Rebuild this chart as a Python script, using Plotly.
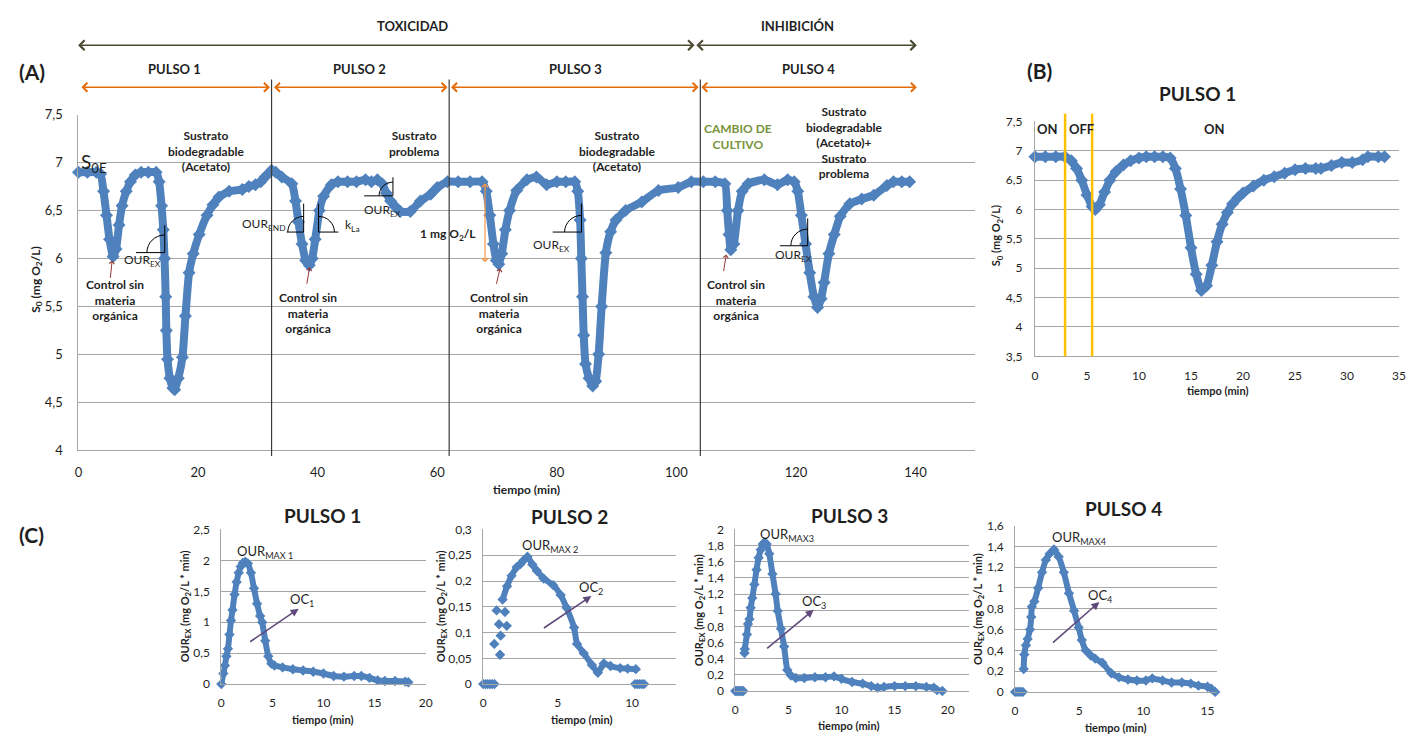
import plotly.graph_objects as go

W, H = 1414, 741
FONT = "Lato, 'Open Sans', sans-serif"
BLUE = "#4F81BD"
TXT = "#1F1F1F"
GRID = "#A6A6A6"

# ---------------- data ----------------
# Panel A: full run, dissolved oxygen S0 (mg O2/L) vs time (min)
a_time = [0, 1.5, 3.0, 3.7, 4.2, 4.7, 5.2, 5.8, 6.3, 6.8, 7.3, 8.0, 8.7, 9.5, 10.5, 11.7, 13.0,
          13.5, 13.9, 14.2, 14.4, 14.6, 14.7, 14.9, 15.3, 15.8, 16.1, 16.7, 17.4, 17.9, 18.5, 19.2,
          20.2, 21.5, 22.5, 23.5, 25.2, 27.4, 28.5, 29.6, 30.5, 31.2, 32.3, 33.0, 34.0, 35.7,
          36.3, 36.8, 37.4, 38.0, 38.6, 39.1, 39.6, 40.3, 41.0, 42.3, 43.4, 45.0, 46.5, 48.0,
          49.0, 50.0, 50.8, 51.5, 52.2, 53.0, 53.8, 55.5, 57.2, 58.9, 60.0, 61.7, 63.5, 65.5,
          67.5, 68.2, 68.8, 69.4, 69.9, 70.3, 70.8, 71.4, 72.1, 73.3, 75.0, 76.6, 78.3, 80.0,
          81.5, 83.0, 83.5, 83.9, 84.1, 84.3, 84.5, 84.8, 85.4, 86.0, 86.5, 87.0, 87.5, 88.2,
          89.0, 89.9, 91.5, 94.2, 97.0, 100.3, 102.5, 104.5, 106.5, 108.1, 108.5, 108.8, 109.1,
          109.6, 110.3, 111.0, 112.0, 114.7, 116.9, 118.6, 119.7, 120.3, 120.9, 121.6, 122.3,
          123.0, 123.6, 124.2, 124.7, 125.5, 126.4, 127.4, 129.0, 131.0, 133.0, 135.2, 136.3,
          137.7, 139.0]
a_s0 = [6.9, 6.9, 6.9, 6.88, 6.7, 6.45, 6.2, 6.02, 6.1, 6.35, 6.55, 6.7, 6.8, 6.87, 6.9, 6.9, 6.9,
        6.8, 6.55, 6.3, 6.0, 5.6, 5.25, 4.95, 4.75, 4.65, 4.63, 4.75, 4.97, 5.4, 5.85, 6.05,
        6.25, 6.45, 6.56, 6.64, 6.7, 6.72, 6.75, 6.77, 6.8, 6.85, 6.92, 6.9, 6.85, 6.78,
        6.6, 6.38, 6.15, 5.98, 5.93, 6.0, 6.2, 6.5, 6.65, 6.77, 6.8, 6.8, 6.8, 6.82,
        6.8, 6.82, 6.78, 6.68, 6.6, 6.54, 6.49, 6.49, 6.6, 6.67, 6.74, 6.8, 6.8, 6.8,
        6.8, 6.7, 6.45, 6.15, 5.98, 5.94, 6.05, 6.3, 6.5, 6.71, 6.82, 6.85, 6.77, 6.8,
        6.8, 6.8, 6.7, 6.4, 6.0, 5.6, 5.2, 4.9, 4.75, 4.67, 4.72, 5.0, 5.5, 6.06,
        6.28, 6.4, 6.5, 6.59, 6.71, 6.74, 6.8, 6.8, 6.8, 6.78, 6.5, 6.25, 6.09,
        6.15, 6.5, 6.7, 6.78, 6.82, 6.77, 6.82, 6.8, 6.7, 6.45, 6.15, 5.85,
        5.6, 5.49, 5.58, 5.75, 6.05, 6.25, 6.44, 6.57, 6.62, 6.66, 6.76, 6.8,
        6.8, 6.8]
a_tick_x = [0, 20, 40, 60, 80, 100, 120, 140]
a_pulse_limits = [32.3, 62.0, 104.0]          # vertical separators (min)
a_dose_arrow = [68.0, 6.8, 5.96]               # time, top, bottom of "1 mg O2/L" arrow

# Panel B: PULSO 1 detail
b_time = [0, 1, 2, 2.9, 3.5, 4, 4.5, 5, 5.5, 5.8, 6.2, 6.7, 7.2, 7.8, 8.5, 9.2, 10, 10.7, 11.5,
          12.3, 13, 13.5, 14, 14.5, 15, 15.5, 16, 16.5, 17, 17.5, 18, 18.5, 19, 19.5, 20, 21,
          22, 23, 24, 25, 26, 27, 27.5, 28.5, 29.5, 30.5, 31.5, 32, 33, 33.6]
b_s0 = [6.9, 6.9, 6.9, 6.9, 6.83, 6.7, 6.5, 6.25, 6.05, 6.0, 6.08, 6.3, 6.5, 6.65, 6.76, 6.83,
        6.88, 6.9, 6.9, 6.9, 6.88, 6.7, 6.35, 5.9, 5.35, 4.9, 4.62, 4.7, 5.05, 5.45, 5.75, 5.95,
        6.1, 6.2, 6.28, 6.4, 6.5, 6.56, 6.62, 6.68, 6.7, 6.7, 6.7, 6.75, 6.8, 6.8, 6.85, 6.9,
        6.9, 6.9]
b_aeration_switch = [2.9, 5.5]

# Panel C: OUR_EX (mg O2/L*min) vs time (min)
c1_time = [0, 0.2, 0.35, 0.5, 0.65, 0.8, 0.95, 1.1, 1.3, 1.5, 1.7, 1.9, 2.1, 2.35, 2.6, 2.9,
           3.2, 3.5, 3.8, 4.0, 4.3, 4.6, 4.9, 5.2, 6, 7, 8, 9, 10, 11, 12, 13, 13.7, 14.5,
           15.3, 16, 17, 18, 18.3]
c1_our = [0, 0.17, 0.3, 0.45, 0.57, 0.8, 1.03, 1.2, 1.45, 1.65, 1.8, 1.9, 1.96, 1.98, 1.95, 1.8,
          1.55, 1.3, 1.1, 1.0, 0.7, 0.45, 0.33, 0.3, 0.27, 0.24, 0.22, 0.2, 0.17, 0.13, 0.12,
          0.13, 0.13, 0.1, 0.06, 0.05, 0.05, 0.04, 0.03]

c2_time = [1.3, 1.6, 1.9, 2.25, 2.5, 2.7, 2.97, 3.3, 3.6, 4.05, 4.7, 5.2, 5.6, 6.1, 6.3, 6.75,
           7.3, 7.7, 8.1, 8.55, 9.2, 9.7, 10.25]
c2_our = [0.164, 0.19, 0.21, 0.227, 0.233, 0.24, 0.247, 0.232, 0.22, 0.205, 0.192, 0.173, 0.148,
          0.11, 0.078, 0.06, 0.037, 0.022, 0.04, 0.035, 0.031, 0.03, 0.029]
c2_time_pts = [0, 0.15, 0.3, 0.45, 0.6, 0.75, 0.74, 0.9, 1.06, 1.13, 1.17, 1.46, 1.58,
               10.2, 10.35, 10.5, 10.65, 10.8]
c2_our_pts = [0, 0, 0, 0, 0, 0, 0.078, 0.143, 0.116, 0.057, 0.094, 0.14, 0.113,
              0, 0, 0, 0, 0]

c3_time = [0.87, 0.9, 1.1, 1.2, 1.34, 1.45, 1.6, 1.8, 2.0, 2.2, 2.4, 2.6, 2.75, 2.95, 3.2, 3.5,
           3.8, 4.0, 4.3, 4.6, 4.9, 5.25, 5.7, 6.5, 7.5, 8.5, 9.3, 10, 11, 12, 12.8, 13.4, 14,
           15, 16, 17, 18, 18.7, 19.0, 19.5]
c3_our = [0.47, 0.52, 0.7, 0.83, 0.89, 1.03, 1.15, 1.32, 1.5, 1.65, 1.75, 1.82, 1.84, 1.82, 1.7,
          1.45, 1.2, 0.99, 0.77, 0.55, 0.26, 0.19, 0.16, 0.16, 0.17, 0.17, 0.18, 0.15, 0.11,
          0.09, 0.06, 0.04, 0.05, 0.06, 0.06, 0.06, 0.05, 0.04, 0.01, 0.0]
c3_time_pts = [0, 0.15, 0.3, 0.45, 0.6, 0.75]
c3_our_pts = [0, 0, 0, 0, 0, 0]

c4_time = [0.67, 0.72, 0.85, 0.98, 1.16, 1.26, 1.31, 1.5, 1.8, 2.1, 2.4, 2.7, 3.03, 3.4, 3.8,
           4.2, 4.6, 4.96, 5.2, 5.5, 5.9, 6.25, 6.8, 7.5, 8.1, 8.8, 9.5, 10.2, 10.7, 11.5, 12.2,
           13, 13.7, 14.3, 15.0, 15.3, 15.6]
c4_our = [0.22, 0.36, 0.45, 0.51, 0.6, 0.72, 0.82, 0.87, 1.0, 1.15, 1.27, 1.33, 1.37, 1.3, 1.15,
          0.95, 0.78, 0.62, 0.5, 0.4, 0.35, 0.32, 0.28, 0.18, 0.14, 0.12, 0.11, 0.11, 0.13, 0.11,
          0.09, 0.09, 0.08, 0.06, 0.05, 0.03, 0.0]
c4_time_pts = [0, 0.15, 0.3, 0.45, 0.6]
c4_our_pts = [0, 0, 0, 0, 0]

# ---------------- figure ----------------
fig = go.Figure()


def series(x, y, n, lw, ms, lines=True):
    xa = "x" if n == 1 else f"x{n}"
    ya = "y" if n == 1 else f"y{n}"
    fig.add_trace(go.Scatter(
        x=x, y=y, xaxis=xa, yaxis=ya, mode="lines+markers" if lines else "markers",
        line=dict(color=BLUE, width=lw, shape="spline", smoothing=0.5),
        marker=dict(symbol="diamond", size=ms, color=BLUE),
        cliponaxis=False, hoverinfo="skip", showlegend=False))


series(a_time, a_s0, 1, 8, 10)
series(b_time, b_s0, 2, 8, 10)
series(c1_time, c1_our, 3, 6, 8)
series(c2_time, c2_our, 4, 6, 8)
series(c2_time_pts, c2_our_pts, 4, 6, 8, lines=False)
series(c3_time, c3_our, 5, 6, 8)
series(c3_time_pts, c3_our_pts, 5, 6, 8, lines=False)
series(c4_time, c4_our, 6, 6, 8)
series(c4_time_pts, c4_our_pts, 6, 6, 8, lines=False)

layout = dict(
    width=W, height=H, margin=dict(l=0, r=0, t=0, b=0),
    paper_bgcolor="white", plot_bgcolor="white", showlegend=False,
    separators=",.", font=dict(family=FONT, color=TXT),
)


def axes(n, x0, x1, ytop, ybot, xr, yr, xtick, ytick, fs=12, xstand=8, ystand=8):
    xk = "xaxis" if n == 1 else f"xaxis{n}"
    yk = "yaxis" if n == 1 else f"yaxis{n}"
    xa = dict(domain=[x0 / W, x1 / W], range=xr, anchor="y" if n == 1 else f"y{n}",
              showgrid=False, showline=True, linecolor=GRID, linewidth=1, ticks="",
              zeroline=False, tickfont=dict(family=FONT, size=fs, color=TXT),
              ticklabelstandoff=xstand, fixedrange=True)
    if isinstance(xtick, list):
        xa.update(tickmode="array", tickvals=xtick)
    else:
        xa.update(dtick=xtick, tick0=0)
    ya = dict(domain=[1 - ybot / H, 1 - ytop / H], range=yr, anchor="x" if n == 1 else f"x{n}",
              showgrid=True, gridcolor=GRID, gridwidth=1, showline=True, linecolor=GRID,
              linewidth=1, ticks="", zeroline=False, dtick=ytick, tick0=0,
              tickfont=dict(family=FONT, size=fs, color=TXT), ticklabelstandoff=ystand,
              fixedrange=True)
    layout[xk] = xa
    layout[yk] = ya


axes(1, 75, 979, 109, 452, [0, 150], [4, 7.5], a_tick_x, 0.5, fs=13, xstand=10, ystand=12)
axes(2, 1039, 1406, 116, 356, [0, 35], [3.5, 7.5], 5, 0.5, fs=12, xstand=8, ystand=9)
axes(3, 219, 425, 533, 691, [0, 20], [0, 2.5], 5, 0.5, fs=12, xstand=8, ystand=8)
axes(4, 483, 677, 533, 691, [0, 12.93], [0, 0.3], [0, 5, 10], 0.05, fs=12, xstand=8, ystand=8)
axes(5, 737, 973, 533, 698, [0, 22.05], [0, 2], 5, 0.2, fs=12, xstand=8, ystand=8)
axes(6, 1019, 1223, 529, 699, [0, 15.78], [0, 1.6], 5, 0.2, fs=12, xstand=8, ystand=8)

ann = []
shapes = []


def txt(text, x, y, size=12, bold=False, color=TXT, xanchor="center", yanchor="middle", angle=0):
    lines = text.split("\n")
    if bold:
        lines = [f"<b>{l}</b>" for l in lines]
    ann.append(dict(text="<br>".join(lines), x=x / W, y=1 - y / H, xref="paper", yref="paper",
                    showarrow=False, font=dict(family=FONT, size=size, color=color),
                    xanchor=xanchor, yanchor=yanchor, textangle=angle, align="center"))


def arrow(x0, y0, x1, y1, color, width, head=5, both=False, size=1.0):
    ann.append(dict(text="", x=x1 / W, y=1 - y1 / H, xref="paper", yref="paper",
                    ax=x0 - x1, ay=y0 - y1, axref="pixel", ayref="pixel", showarrow=True,
                    arrowhead=head, startarrowhead=head, arrowsize=size, startarrowsize=size,
                    arrowwidth=width, arrowcolor=color,
                    arrowside="end+start" if both else "end"))


def P(x, y):
    return f"{x / W:.6f},{1 - y / H:.6f}"


def seg(x0, y0, x1, y1, color="#000000", width=1, dash=None):
    shapes.append(dict(type="line", xref="paper", yref="paper", x0=x0 / W, y0=1 - y0 / H,
                       x1=x1 / W, y1=1 - y1 / H, line=dict(color=color, width=width, dash=dash)))


def angle_mark(cx, cy, xl, xr, ytop, r, side="left"):
    seg(xl, cy, xr, cy)
    seg(cx, cy, cx, ytop)
    k = 0.5523 * r
    if side == "left":
        path = f"M {P(cx - r, cy)} C {P(cx - r, cy - k)} {P(cx - k, cy - r)} {P(cx, cy - r)}"
    else:
        path = f"M {P(cx, cy - r)} C {P(cx + k, cy - r)} {P(cx + r, cy - k)} {P(cx + r, cy)}"
    shapes.append(dict(type="path", xref="paper", yref="paper", path=path,
                       line=dict(color="#000000", width=1)))


# ---- Panel A decorations ----
txt("(A)", 28, 65, size=21, bold=True)
txt("TOXICIDAD", 412, 18, size=13, bold=True)
txt("INHIBICIÓN", 800, 18, size=13, bold=True)
OLIVE = "#4A4A32"
arrow(78, 38, 696, 38, OLIVE, 1.6, head=4, both=True, size=1.2)
arrow(698, 38, 920, 38, OLIVE, 1.6, head=4, both=True, size=1.2)
for label, xc in [("PULSO 1", 172), ("PULSO 2", 358), ("PULSO 3", 576), ("PULSO 4", 811)]:
    txt(label, xc, 62, size=13, bold=True)
ORANGE = "#E46C0A"
for xa_, xb_ in [(78, 268), (272, 447), (451, 700), (703, 920)]:
    arrow(xa_, 81, xb_, 81, ORANGE, 1.6, head=4, both=True, size=1.1)

for t in a_pulse_limits:
    shapes.append(dict(type="line", xref="x", yref="paper", x0=t, x1=t,
                       y0=1 - 458 / H, y1=1 - 73 / H, line=dict(color="#3A3A3A", width=1.2)))

ann.append(dict(text="S<sub>0E</sub>", x=76 / W, y=1 - 158 / H, xref="paper", yref="paper",
                showarrow=False, font=dict(family=FONT, size=19, color=TXT),
                xanchor="left", yanchor="middle"))
txt("Sustrato\nbiodegradable\n(Acetato)", 204, 146, size=12, bold=True)
txt("Sustrato\nproblema", 413, 138, size=12, bold=True)
txt("Sustrato\nbiodegradable\n(Acetato)", 618, 146, size=12, bold=True)
txt("CAMBIO DE\nCULTIVO", 740, 131, size=12, bold=True, color="#77933C")
txt("Sustrato\nbiodegradable\n(Acetato)+\nSustrato\nproblema", 847, 137, size=12, bold=True)
txt("Control sin\nmateria\norgánica", 112, 298, size=12, bold=True)
txt("Control sin\nmateria\norgánica", 306, 312, size=12, bold=True)
txt("Control sin\nmateria\norgánica", 499, 312, size=12, bold=True)
txt("Control sin\nmateria\norgánica", 738, 298, size=12, bold=True)
RED = "#953735"
arrow(107, 277, 109, 258, RED, 1, head=4, size=1)
arrow(305, 283, 308, 265, RED, 1, head=4, size=1)
arrow(496, 283, 500, 266, RED, 1, head=4, size=1)
arrow(725, 270, 728, 252, RED, 1, head=4, size=1)

# 1 mg O2/L arrow (data coordinates of panel A)
ann.append(dict(text="", x=a_dose_arrow[0], y=a_dose_arrow[2], xref="x", yref="y",
                ax=a_dose_arrow[0], ay=a_dose_arrow[1], axref="x", ayref="y",
                showarrow=True, arrowhead=4, startarrowhead=4, arrowside="end+start",
                arrowsize=1, startarrowsize=1, arrowwidth=1.2, arrowcolor="#F79646"))
txt("1 mg O<sub>2</sub>/L", 447, 232, size=12, bold=True)

angle_mark(162, 250, 133, 162, 222, 18, "left")
txt("OUR<sub>EX</sub>", 140, 258, size=12)
angle_mark(302, 229, 285, 302, 200, 16, "left")
txt("OUR<sub>END</sub>", 262, 221, size=12)
angle_mark(317, 229, 317, 337, 200, 16, "right")
txt("k<sub>La</sub>", 342, 222, size=12, xanchor="left")
angle_mark(392, 192, 363, 392, 173, 14, "left")
txt("OUR<sub>EX</sub>", 381, 207, size=12)
angle_mark(582, 229, 553, 582, 200, 17, "left")
txt("OUR<sub>EX</sub>", 552, 243, size=12)
angle_mark(810, 243, 782, 810, 215, 17, "left")
txt("OUR<sub>EX</sub>", 796, 253, size=12)

txt("S<sub>0</sub> (mg O<sub>2</sub>/L)", 32, 277, size=12, bold=True, angle=-90)
txt("tiempo (min)", 527, 492, size=12, bold=True)

# ---- Panel B ----
txt("(B)", 1044, 64, size=21, bold=True)
txt("PULSO 1", 1203, 87, size=19, bold=True)
for t in b_aeration_switch:
    shapes.append(dict(type="line", xref="x2", yref="paper", x0=t, x1=t,
                       y0=1 - 356 / H, y1=1 - 108 / H, line=dict(color="#FFC000", width=2.5)))
txt("ON", 1052, 124, size=13, bold=True)
txt("OFF", 1086, 124, size=13, bold=True)
txt("ON", 1220, 124, size=13, bold=True)
txt("S<sub>0</sub> (mg O<sub>2</sub>/L)", 1001, 233, size=11, bold=True, angle=-90)
txt("tiempo (min)", 1223, 391, size=11, bold=True)

# ---- Panel C ----
txt("(C)", 28, 538, size=21, bold=True)
PURPLE = "#604A7B"
ytitle = "OUR<sub>EX</sub> (mg O<sub>2</sub>/L * min)"
panels_c = [
    ("PULSO 1", 321, 519, "OUR<sub>MAX 1</sub>", 263, 556, "OC<sub>1</sub>", 300, 605,
     (247, 648, 297, 614), 183, 612, 321, 727),
    ("PULSO 2", 570, 520, "OUR<sub>MAX 2</sub>", 550, 550, "OC<sub>2</sub>", 592, 593,
     (543, 634, 592, 601), 441, 612, 582, 727),
    ("PULSO 3", 852, 519, "OUR<sub>MAX3</sub>", 789, 539, "OC<sub>3</sub>", 816, 607,
     (768, 655, 816, 615), 701, 616, 851, 733),
    ("PULSO 4", 1128, 512, "OUR<sub>MAX4</sub>", 1084, 542, "OC<sub>4</sub>", 1105, 601,
     (1056, 649, 1104, 607), 982, 614, 1120, 735),
]
for (title, tx, ty, mx_lbl, mx, my, oc_lbl, ox, oy, arr, ytx, yty, xtx, xty) in panels_c:
    txt(title, tx, ty, size=19, bold=True)
    txt(mx_lbl, mx, my, size=13)
    txt(oc_lbl, ox, oy, size=13)
    arrow(arr[0], arr[1], arr[2], arr[3], PURPLE, 1.6, head=2, size=1)
    txt(ytitle, ytx, yty, size=11, bold=True, angle=-90)
    txt("tiempo (min)", xtx, xty, size=11, bold=True)

layout["annotations"] = ann
layout["shapes"] = shapes
fig.update_layout(**layout)
fig.write_html("out.html", config={"displayModeBar": False},
               post_script="document.body.style.margin='0';document.body.style.overflow='hidden';")
